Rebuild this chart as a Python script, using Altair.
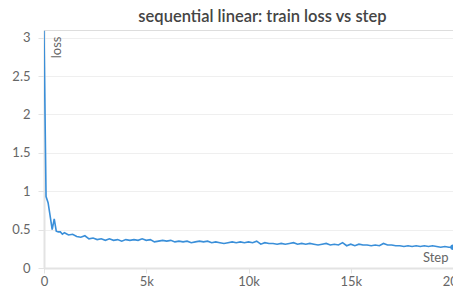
import altair as alt
import pandas as pd

steps = [0, 100, 200, 300, 400, 500, 600, 700, 800, 900] + list(range(1000, 20001, 200))
loss = [3.09, 0.93, 0.85, 0.68, 0.50, 0.64, 0.48, 0.47, 0.47, 0.44,
        0.46, 0.43, 0.44, 0.41, 0.40, 0.42, 0.38, 0.39, 0.37, 0.38,
        0.36, 0.38, 0.36, 0.37, 0.35, 0.37, 0.36, 0.37, 0.36, 0.38,
        0.36, 0.37, 0.34, 0.35, 0.36, 0.35, 0.36, 0.34, 0.35, 0.34,
        0.35, 0.33, 0.34, 0.35, 0.34, 0.35, 0.33, 0.34, 0.33, 0.32,
        0.33, 0.34, 0.33, 0.34, 0.33, 0.34, 0.33, 0.35, 0.31, 0.33,
        0.32, 0.32, 0.31, 0.32, 0.31, 0.32, 0.33, 0.31, 0.32, 0.31,
        0.32, 0.31, 0.30, 0.31, 0.32, 0.30, 0.31, 0.30, 0.33, 0.29,
        0.31, 0.29, 0.31, 0.30, 0.30, 0.29, 0.30, 0.29, 0.32, 0.30,
        0.30, 0.29, 0.29, 0.28, 0.29, 0.28, 0.29, 0.28, 0.29, 0.28,
        0.29, 0.28, 0.27, 0.28, 0.27, 0.27]
x_ticks = [0, 5000, 10000, 15000, 20000]
y_ticks = [0, 0.5, 1, 1.5, 2, 2.5, 3]

df = pd.DataFrame({"Step": steps, "loss": loss})
last = df.tail(1)

FONT = "Lato"
COLOR = "#3a8fd9"
W = 409

x = alt.X("Step:Q", scale=alt.Scale(domain=[0, 20000], nice=False),
          axis=alt.Axis(values=x_ticks, labelExpr="datum.value == 0 ? '0' : (datum.value/1000) + 'k'",
                        grid=False, domainColor="#e3e3e3", domainWidth=2, tickColor="#e3e3e3",
                        tickSize=5, labelColor="#666", labelFontSize=13, labelPadding=2,
                        labelFlush=False, labelOverlap=False,
                        title="Step", titleAnchor="end", titleAlign="right", titleBaseline="bottom",
                        titleY=-4, titleX=W - 5, titleColor="#666", titleFontSize=13, titleFontWeight="normal"))
y = alt.Y("loss:Q", scale=alt.Scale(domain=[0, 3.1], nice=False),
          axis=alt.Axis(values=y_ticks, format="~g", gridColor="#efefef", domainColor="#e3e3e3", domainWidth=2,
                        tickColor="#e3e3e3", tickSize=6, labelColor="#666", labelFontSize=13,
                        labelPadding=8, labelFlush=False, labelOverlap=False,
                        title="loss", titleAnchor="end", titleAngle=-90,
                        titleAlign="right", titleBaseline="top", titleX=6, titleY=6,
                        titleColor="#666", titleFontSize=13, titleFontWeight="normal"))

line = alt.Chart(df).mark_line(color=COLOR, strokeWidth=1.6, clip=True).encode(x=x, y=y)
pt = alt.Chart(last).mark_point(filled=True, color=COLOR, size=30, opacity=1).encode(x=x, y=y)

chart = (line + pt).properties(
    width=W, height=238,
    title=alt.TitleParams("sequential linear: train loss vs step", fontSize=16.5, fontWeight=600,
                          color="#444", font=FONT, anchor="middle", offset=5, dx=14),
    padding={"left": 36, "top": 22, "right": 0, "bottom": 23},
    autosize="none",
).configure_view(stroke=None).configure(font=FONT)

chart.save("out.html", embed_options={"renderer": "svg", "actions": False})
